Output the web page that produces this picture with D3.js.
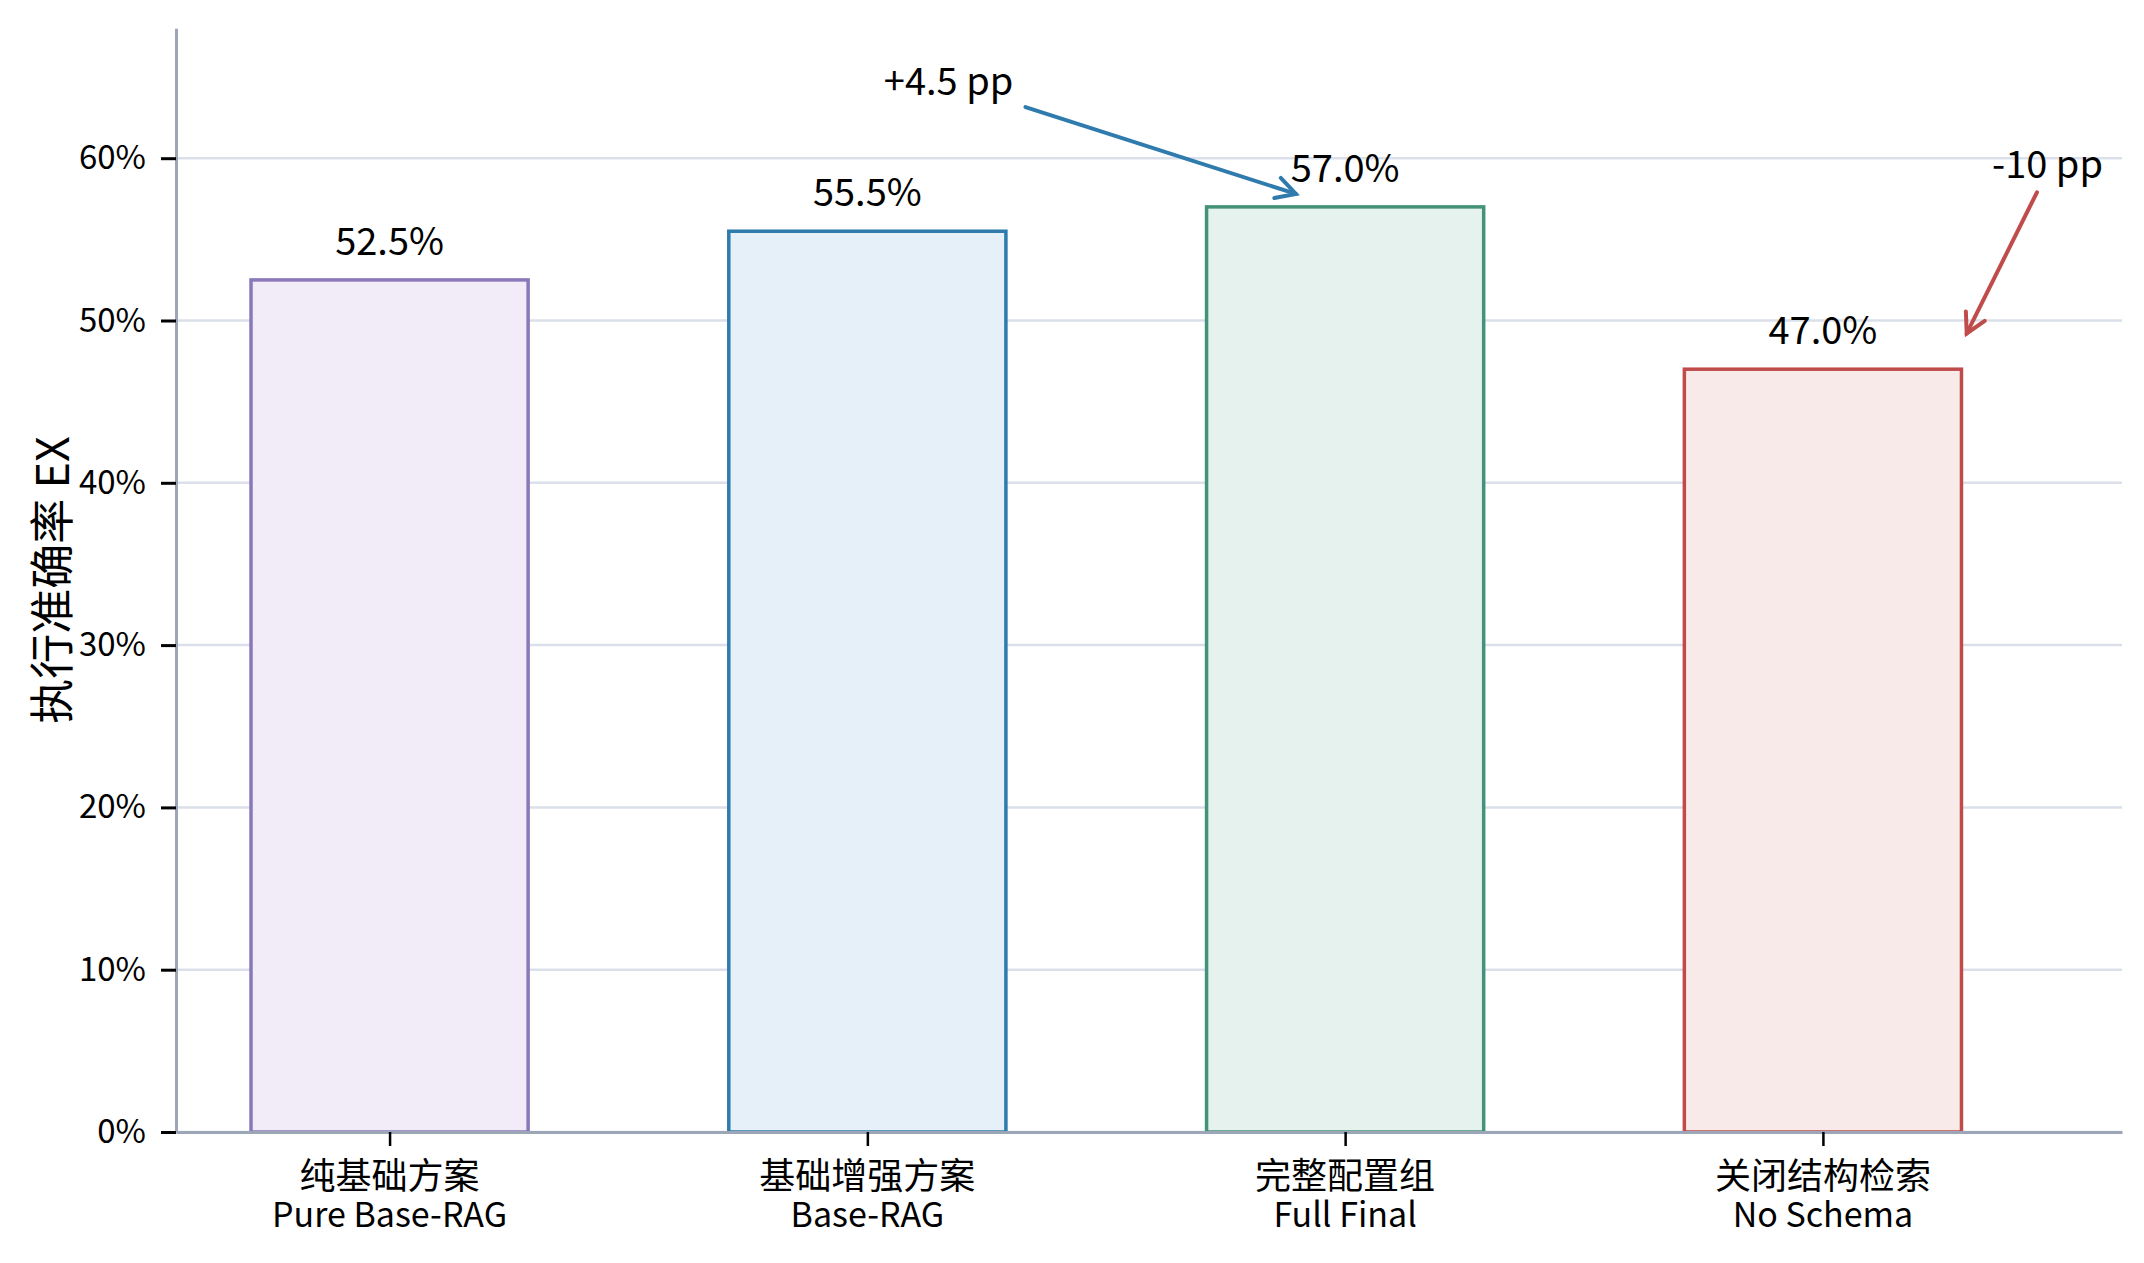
<!DOCTYPE html>
<html>
<head>
<meta charset="utf-8">
<script src="https://cdn.jsdelivr.net/npm/d3@7"></script>
<style>
  body { margin: 0; background: #fff; }
  text { font-family: "Noto Sans CJK SC", "Noto Sans", sans-serif; fill: #000; }
</style>
</head>
<body>
<div id="chart-area"></div>
<script>
// data
const categoriesZh = ["纯基础方案", "基础增强方案", "完整配置组", "关闭结构检索"]
const categoriesEn = ["Pure Base-RAG", "Base-RAG", "Full Final", "No Schema"]
const accuracy = [0.525, 0.555, 0.570, 0.470]
const yTicks = [0, 0.1, 0.2, 0.3, 0.4, 0.5, 0.6]

// annotations, in data coordinates: [bar index, value]
const annTexts = ["+4.5 pp", "-10 pp"]
const annTextAt = [[1.17, 0.639], [3.47, 0.588]]
const annFrom = [[1.331, 0.6315], [3.448, 0.579]]
const annTo = [[1.897, 0.578], [3.301, 0.492]]

const strokeColors = ["#8a78b8", "#2f7bad", "#45927a", "#bf4b4a"]
const fillColors = ["#f2ecf8", "#e5f0f8", "#e5f2ed", "#f9eaea"]

const W = 2144, H = 1263
const PLOT = { LEFT: 176, RIGHT: 2122, TOP: 28, BOTTOM: 1132 }
const BAR_HALF = 0.29

const svg = d3.select("#chart-area").append("svg")
  .attr("width", W)
  .attr("height", H)

svg.append("rect").attr("width", W).attr("height", H).attr("fill", "#fff")

const x = d3.scaleLinear()
  .domain([-0.447, 3.626])
  .range([PLOT.LEFT, PLOT.RIGHT])

const y = d3.scaleLinear()
  .domain([0, 0.68])
  .range([PLOT.BOTTOM, PLOT.BOTTOM - 0.68 * 1623])

// grid
svg.append("g")
  .selectAll("line")
  .data(yTicks)
  .enter().append("line")
    .attr("x1", PLOT.LEFT)
    .attr("x2", PLOT.RIGHT)
    .attr("y1", d => y(d))
    .attr("y2", d => y(d))
    .attr("stroke", "#dadfe9")
    .attr("stroke-width", 2.5)

// bars
svg.append("g")
  .selectAll("rect")
  .data(accuracy)
  .enter().append("rect")
    .attr("x", (d, i) => x(i - BAR_HALF))
    .attr("width", (d, i) => x(i + BAR_HALF) - x(i - BAR_HALF))
    .attr("y", d => y(d))
    .attr("height", d => y(0) - y(d))
    .attr("fill", (d, i) => fillColors[i])
    .attr("stroke", (d, i) => strokeColors[i])
    .attr("stroke-width", 3.5)

// value labels
svg.append("g")
  .selectAll("text")
  .data(accuracy)
  .enter().append("text")
    .attr("x", (d, i) => x(i))
    .attr("y", d => y(d) - 25)
    .attr("text-anchor", "middle")
    .attr("font-size", 38)
    .text(d => d3.format(".1%")(d))

// y axis
const leftAxis = d3.axisLeft(y)
  .tickValues(yTicks)
  .tickFormat(d3.format(".0%"))
  .tickSize(15)
  .tickSizeOuter(0)
  .tickPadding(15)
const gy = svg.append("g")
  .attr("transform", `translate(${PLOT.LEFT}, 0)`)
  .call(leftAxis)
gy.select(".domain").attr("stroke", "#9ba6b6").attr("stroke-width", 3)
gy.selectAll(".tick line").attr("stroke", "#000").attr("stroke-width", 3)
gy.selectAll(".tick text")
  .attr("font-size", 33)
  .attr("font-family", "\"Noto Sans CJK SC\", sans-serif")

// x axis
const bottomAxis = d3.axisBottom(x)
  .tickValues(d3.range(categoriesZh.length))
  .tickFormat("")
  .tickSize(14)
  .tickSizeOuter(0)
const gx = svg.append("g")
  .attr("transform", `translate(0, ${PLOT.BOTTOM})`)
  .call(bottomAxis)
gx.select(".domain").attr("stroke", "#9ba6b6").attr("stroke-width", 3)
gx.selectAll(".tick line").attr("stroke", "#000").attr("stroke-width", 2.5)

// category labels, Chinese line then English line
svg.append("g")
  .selectAll("text")
  .data(categoriesZh)
  .enter().append("text")
    .attr("x", (d, i) => x(i))
    .attr("y", 1189)
    .attr("text-anchor", "middle")
    .attr("font-size", 36)
    .text(d => d)
svg.append("g")
  .selectAll("text")
  .data(categoriesEn)
  .enter().append("text")
    .attr("x", (d, i) => x(i))
    .attr("y", 1227)
    .attr("text-anchor", "middle")
    .attr("font-size", 34)
    .text(d => d)

// y label
svg.append("text")
  .attr("transform", `translate(49, ${(PLOT.TOP + PLOT.BOTTOM) / 2}) rotate(-90)`)
  .attr("text-anchor", "middle")
  .attr("dominant-baseline", "central")
  .attr("font-size", 45)
  .text("执行准确率 EX")

// annotations with open arrow heads
const ann = svg.append("g")
annTexts.forEach((t, k) => {
  const col = strokeColors[k === 0 ? 1 : 3]
  ann.append("text")
    .attr("x", x(annTextAt[k][0]))
    .attr("y", y(annTextAt[k][1]))
    .attr("text-anchor", "middle")
    .attr("font-size", 38)
    .text(t)

  const x0 = x(annFrom[k][0]), y0 = y(annFrom[k][1])
  const x1 = x(annTo[k][0]), y1 = y(annTo[k][1])
  const a = Math.atan2(y1 - y0, x1 - x0)
  const L = 22, spread = 0.5
  const h1 = [x1 - L * Math.cos(a - spread), y1 - L * Math.sin(a - spread)]
  const h2 = [x1 - L * Math.cos(a + spread), y1 - L * Math.sin(a + spread)]

  ann.append("line")
    .attr("x1", x0).attr("y1", y0)
    .attr("x2", x1).attr("y2", y1)
    .attr("stroke", col)
    .attr("stroke-width", 4)
    .attr("stroke-linecap", "round")
  ann.append("path")
    .attr("d", `M${h1[0]},${h1[1]}L${x1},${y1}L${h2[0]},${h2[1]}`)
    .attr("fill", "none")
    .attr("stroke", col)
    .attr("stroke-width", 4)
    .attr("stroke-linecap", "round")
})
</script>
</body>
</html>
